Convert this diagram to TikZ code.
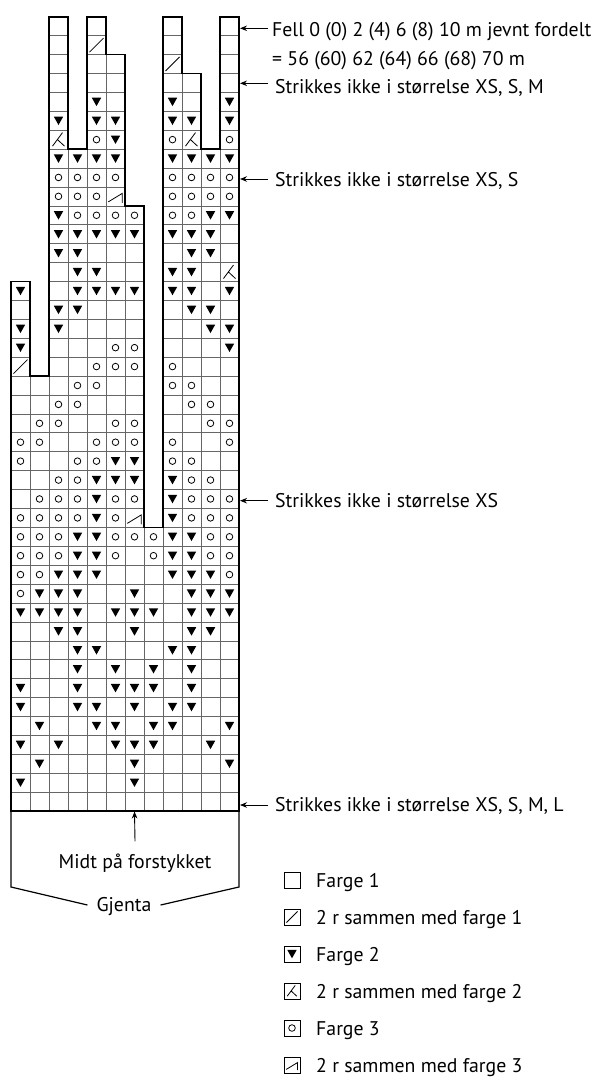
\documentclass[tikz,border=0pt]{standalone}
\usepackage{fontspec}
\setmainfont{PT Sans}
\usetikzlibrary{arrows.meta}
\begin{document}
\begin{tikzpicture}[x=1pt,y=-1pt,
  cell/.style={draw=black!60,line width=0.6pt},
  outline/.style={draw=black,line width=1.6pt,line join=miter},
  boxline/.style={draw=black,line width=1.2pt},
  lbl/.style={font=\fontsize{19.8}{24}\selectfont,inner sep=0pt,anchor=base west},
  pointer/.style={-{Stealth[length=7pt,width=5.5pt]},line width=0.9pt},
  legbox/.style={draw=black,line width=0.8pt,minimum size=16pt,inner sep=0pt},
  tridown/.pic={\fill (-4.7,-4.1) -- (4.7,-4.1) -- (0,4.3) -- cycle;},
  ring/.pic={\draw[line width=0.8pt] (0,0) circle (3.3pt);},
  decone/.pic={\draw[line width=0.8pt] (-7,7) -- (7,-7);},
  dectwo/.pic={\draw[line width=0.8pt] (-6,6.5) -- (4,-7) (-1,0) -- (6,6.5);},
  decthree/.pic={\draw[line width=0.8pt] (-7.2,5.5) -- (6.8,-3) -- (6.8,6.5);},
]
\useasboundingbox (0,0) rectangle (598,1077);

% grid cells
\foreach \c/\h in {1/28,2/23,3/42,4/35,5/42,6/40,7/32,8/15,9/42,10/39,11/35,12/42}
  \foreach \r in {1,...,\h}
    \draw[cell] ({11+19*(\c-1)},{811-\r*18.912}) rectangle ++(19,18.912);

% colour 2
\foreach \c/\r in {5/38,9/38,12/38,
  3/37,5/37,6/37,9/37,10/37,12/37,
  6/36,
  3/35,4/35,5/35,6/35,9/35,10/35,11/35,12/35,
  3/32,11/32,12/32,
  3/31,4/31,5/31,6/31,7/31,9/31,10/31,11/31,
  3/30,4/30,10/30,11/30,
  4/29,5/29,9/29,10/29,
  1/28,4/28,5/28,6/28,7/28,9/28,10/28,12/28,
  3/27,4/27,10/27,11/27,
  1/26,3/26,11/26,12/26,
  1/25,12/25,
  6/19,7/19,
  5/18,6/18,7/18,9/18,
  5/17,9/17,
  5/16,9/16,
  4/15,5/15,9/15,10/15,
  4/14,5/14,9/14,10/14,
  3/13,4/13,5/13,9/13,10/13,11/13,
  2/12,3/12,4/12,7/12,10/12,11/12,12/12,
  1/11,2/11,3/11,4/11,6/11,7/11,8/11,10/11,11/11,12/11,
  3/10,4/10,7/10,10/10,11/10,
  4/9,5/9,9/9,10/9,
  4/8,6/8,8/8,10/8,
  1/7,4/7,6/7,7/7,8/7,10/7,
  1/6,4/6,5/6,7/6,9/6,10/6,
  2/5,5/5,6/5,8/5,9/5,12/5,
  1/4,3/4,6/4,7/4,8/4,11/4,
  2/3,7/3,12/3,
  1/2,7/2}
  \pic at ({11+19*\c-9.5},{811-(\r-0.5)*18.912}) {tridown};

% colour 3
\foreach \c/\r in {5/36,9/36,12/36,
  3/34,4/34,5/34,6/34,9/34,10/34,11/34,12/34,
  3/33,4/33,5/33,9/33,10/33,11/33,12/33,
  4/32,5/32,6/32,7/32,9/32,10/32,
  6/25,7/25,
  5/24,6/24,7/24,9/24,
  4/23,5/23,9/23,10/23,
  3/22,4/22,10/22,11/22,
  2/21,3/21,6/21,7/21,11/21,12/21,
  1/20,2/20,5/20,6/20,7/20,9/20,12/20,
  1/19,4/19,5/19,9/19,10/19,
  3/18,4/18,10/18,11/18,
  2/17,3/17,4/17,6/17,7/17,10/17,11/17,12/17,
  1/16,2/16,3/16,4/16,6/16,10/16,11/16,12/16,
  1/15,2/15,3/15,6/15,7/15,8/15,11/15,12/15,
  1/14,2/14,3/14,6/14,8/14,11/14,12/14,
  1/13,2/13,12/13,
  1/12}
  \pic at ({11+19*\c-9.5},{811-(\r-0.5)*18.912}) {ring};

% decreases
\foreach \c/\r in {5/41,9/40,1/24}
  \pic at ({11+19*\c-9.5},{811-(\r-0.5)*18.912}) {decone};
\foreach \c/\r in {3/36,10/36,12/29}
  \pic at ({11+19*\c-9.5},{811-(\r-0.5)*18.912}) {dectwo};
\foreach \c/\r in {6/33,7/16}
  \pic at ({11+19*\c-9.5},{811-(\r-0.5)*18.912}) {decthree};

% outline
\draw[outline] (11,811) -- (11,281.46) -- (30,281.46) -- (30,376.02) -- (49,376.02)
  -- (49,16.70) -- (68,16.70) -- (68,149.08) -- (87,149.08) -- (87,16.70)
  -- (106,16.70) -- (106,54.52) -- (125,54.52) -- (125,205.82) -- (144,205.82)
  -- (144,527.32) -- (163,527.32) -- (163,16.70) -- (182,16.70) -- (182,73.43)
  -- (201,73.43) -- (201,149.08) -- (220,149.08) -- (220,16.70) -- (239,16.70)
  -- (239,811) -- cycle;

% repeat box
\node[lbl,anchor=base] (midt) at (135,868) {Midt på forstykket};
\node[lbl,anchor=center] (gjenta) at (124,907) {Gjenta};
\coordinate (gl) at (11,887);
\coordinate (gr) at (239,887);
\coordinate (gtl) at (11,811);
\coordinate (gtr) at (239,811);
\coordinate (mid) at (134.5,811.5);
\draw[boxline] (gtl) -- (gl) -- ([xshift=-9pt,yshift=2pt]gjenta.west);
\draw[boxline] (gtr) -- (gr) -- ([xshift=9pt,yshift=2pt]gjenta.east);
\draw[pointer] ([yshift=12pt]midt.north) -- (mid);

% right annotations
\node[lbl] (fa) at (272,36) {Fell 0 (0) 2 (4) 6 (8) 10 m jevnt fordelt};
\node[lbl] (fb) at (272,65) {= 56 (60) 62 (64) 66 (68) 70 m};
\node[lbl] (sa) at (275,93) {Strikkes ikke i størrelse XS, S, M};
\node[lbl] (sb) at (275,186.7) {Strikkes ikke i størrelse XS, S};
\node[lbl] (sc) at (275,507.3) {Strikkes ikke i størrelse XS};
\node[lbl] (sd) at (275,811) {Strikkes ikke i størrelse XS, S, M, L};
\coordinate (pa) at (240,28.3);
\coordinate (pb) at (240,83.3);
\coordinate (pc) at (240,179);
\coordinate (pd) at (240,500.7);
\coordinate (pe) at (240,805);
\draw[pointer] ([xshift=-4pt]fa.west |- pa) -- (pa);
\draw[pointer] ([xshift=-7pt]sa.west |- pb) -- (pb);
\draw[pointer] ([xshift=-7pt]sb.west |- pc) -- (pc);
\draw[pointer] ([xshift=-7pt]sc.west |- pd) -- (pd);
\draw[pointer] ([xshift=-7pt]sd.west |- pe) -- (pe);

% legend
\node[legbox] (k1) at (292,880) {};
\node[legbox] (k2) at (292,917) {};
\node[legbox] (k3) at (292,954) {};
\node[legbox] (k4) at (292,991) {};
\node[legbox] (k5) at (292,1028) {};
\node[legbox] (k6) at (292,1065) {};
\pic[scale=0.8] at (k2) {decone};
\pic at (k3) {tridown};
\pic[scale=0.8] at (k4) {dectwo};
\pic at (k5) {ring};
\pic[scale=0.8] at (k6) {decthree};
\node[lbl] (l1) at (316,887) {Farge 1};
\node[lbl] (l2) at (316,924) {2 r sammen med farge 1};
\node[lbl] (l3) at (316,961) {Farge 2};
\node[lbl] (l4) at (316,998) {2 r sammen med farge 2};
\node[lbl] (l5) at (316,1035) {Farge 3};
\node[lbl] (l6) at (316,1072) {2 r sammen med farge 3};
\end{tikzpicture}
\end{document}
